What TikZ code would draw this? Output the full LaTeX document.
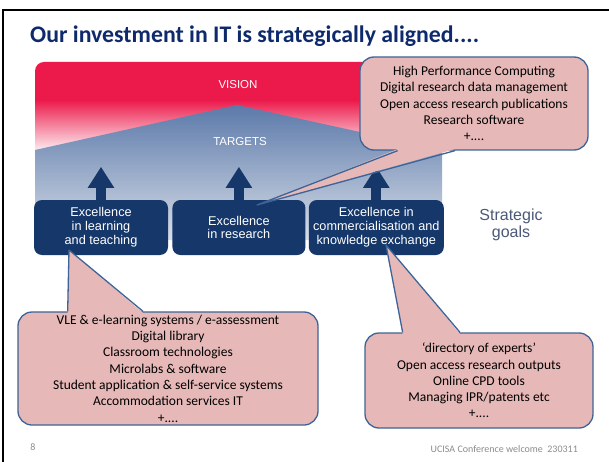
\documentclass[tikz,border=0pt]{standalone}
\usepackage{fontspec}
\setmainfont{Carlito}
\newfontfamily\helv{Liberation Sans}
\usetikzlibrary{positioning,calc,arrows.meta}

\definecolor{titlenavy}{HTML}{0E2A6C}
\definecolor{goalnavy}{HTML}{153769}
\definecolor{visionred}{HTML}{EC1A4B}
\definecolor{targetblue}{HTML}{5B79A9}
\definecolor{targetmid}{HTML}{8EA2C4}
\definecolor{targetlow}{HTML}{D8DEE9}
\definecolor{calloutfill}{HTML}{E6B9B8}
\definecolor{calloutline}{HTML}{3E6396}
\definecolor{goalgrey}{HTML}{4B5A78}
\definecolor{footgrey}{HTML}{8C8C8C}

\tikzset{
  goalbox/.style={fill=goalnavy, rounded corners=8pt, text=white, align=center,
    font=\helv\fontsize{12.7}{13.8}\selectfont, minimum height=55pt, inner sep=0pt},
  goalarrow/.style={draw=goalnavy, line width=10pt, -{Triangle[width=25pt,length=21pt]}},
  callout/.style={fill=calloutfill, draw=calloutline, line width=1.3pt, rounded corners=14pt,
    align=center, inner sep=0pt, font=\fontsize{13.5}{16.3}\selectfont},
  bandtext/.style={text=white, font=\helv\fontsize{11.5}{13}\selectfont},
}

% pointer of a callout: edge from #1 to #2, tip #3, #4 = shift into the box
\newcommand{\calloutpointer}[4]{%
  \fill[calloutfill] ($(#1)!0.167!(#2)+(0,#4)$) -- (#3) -- ($(#1)!0.417!(#2)+(0,#4)$) -- cycle;
  \draw[calloutline, line width=1.3pt, line join=round]
    ($(#1)!0.167!(#2)$) -- (#3) -- ($(#1)!0.417!(#2)$);
}

\begin{document}
\begin{tikzpicture}[x=1pt, y=-1pt]
  \useasboundingbox (0,0) rectangle (609,462);
  \fill[white] (0,0) rectangle (609,462);
  % slide frame
  \draw[line width=1.7pt] (3,462) -- (3,10) -- (609,10);
  \node[anchor=base west, text=titlenavy, inner sep=0pt,
    font=\bfseries\fontsize{23.8}{28}\selectfont] (title) at (30,43)
    {Our investment in IT is strategically aligned....};

  % vision band
  \fill[visionred, rounded corners=9pt] (35,120) -- (35,62) -- (442,62) -- (442,120);
  \fill[visionred] (35,100) rectangle (442,121);
  \shade[top color=visionred, bottom color=white] (35,100) rectangle (442,155);
  % targets
  \shade[top color=targetblue, middle color=targetmid, bottom color=targetlow]
    (35,150) -- (237,105) -- (442,150) -- (442,240) -- (35,240) -- cycle;
  \node[bandtext] (vision) at (238,85) {VISION};
  \node[bandtext] (targets) at (240,142) {TARGETS};

  % goals
  \node[goalbox, minimum width=134pt] (learn) at (101,227.5)
    {Excellence\\in learning\\and teaching};
  \node[goalbox, minimum width=133pt, right=4pt of learn] (research)
    {Excellence\\in research};
  \node[goalbox, minimum width=135pt, right=3pt of research] (commerce)
    {Excellence in\\commercialisation and\\knowledge exchange};
  \foreach \g in {learn,research,commerce}
    \draw[goalarrow] (\g.north) -- ([yshift=33pt]\g.north);
  \node[text=goalgrey, align=center, font=\helv\fontsize{16}{17.5}\selectfont]
    (strategic) at (511,225) {Strategic\\goals};

  % callouts
  \coordinate (researchtip) at (257,205);
  \coordinate (learntip) at (69,250);
  \coordinate (commercetip) at (386,245);
  \node[callout, minimum width=228pt, minimum height=93pt] (hpc) at (474,103.5)
    {High Performance Computing\\Digital research data management\\
     Open access research publications\\Research software\\+....};
  \calloutpointer{hpc.south west}{hpc.south east}{researchtip}{-1.6}
  \node[callout, minimum width=300pt, minimum height=113pt] (vle) at (168,368.5)
    {VLE \& e-learning systems / e-assessment\\Digital library\\Classroom technologies\\
     Microlabs \& software\\Student application \& self-service systems\\
     Accommodation services IT\\+....};
  \calloutpointer{vle.north west}{vle.north east}{learntip}{1.6}
  \node[callout, minimum width=228pt, minimum height=95pt] (experts) at (479,380.5)
    {‘directory of experts’\\Open access research outputs\\Online CPD tools\\
     Managing IPR/patents etc\\+....};
  \calloutpointer{experts.north west}{experts.north east}{commercetip}{1.6}

  % footer
  \node[text=footgrey, font=\fontsize{10}{12}\selectfont] (pagenum) at (33,447) {8};
  \node[anchor=base east, text=footgrey, font=\fontsize{10}{12}\selectfont, inner sep=0pt]
    (event) at (578,452) {UCISA Conference welcome\ \ 230311};
\end{tikzpicture}
\end{document}
